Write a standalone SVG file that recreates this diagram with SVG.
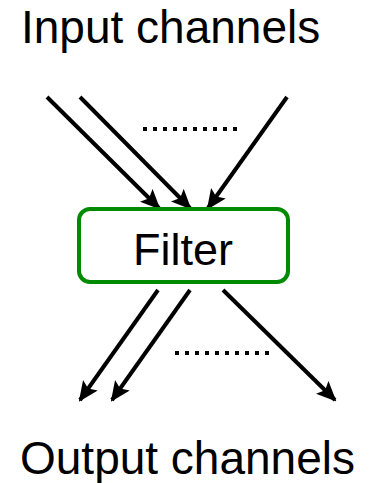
<svg xmlns="http://www.w3.org/2000/svg" width="378" height="483" viewBox="0 0 378 483">
  <style>
    .label { font-family: "Liberation Sans", Arial, sans-serif; fill: #000; }
    .edge { stroke: #000; stroke-width: 4; fill: none; marker-end: url(#arrow); }
    .dots { stroke: #000; stroke-width: 4; stroke-dasharray: 4 6; fill: none; }
  </style>
  <defs>
    <marker id="arrow" markerUnits="userSpaceOnUse" viewBox="0 0 20 18" refX="18" refY="9" markerWidth="20" markerHeight="18" orient="auto">
      <path d="M0,0 L20,9 L0,18 L4,9 Z" fill="#000"/>
    </marker>
  </defs>
  <rect width="378" height="483" fill="#fff"/>

  <text class="label" x="21" y="43" font-size="46">Input channels</text>
  <text class="label" x="20" y="474" font-size="46">Output channels</text>

  <g id="connectors">
    <!-- inputs -->
    <line class="edge" x1="47" y1="97" x2="159" y2="208"/>
    <line class="edge" x1="80" y1="97" x2="190" y2="208"/>
    <line class="edge" x1="287" y1="97" x2="208" y2="208"/>
    <!-- outputs -->
    <line class="edge" x1="158" y1="290" x2="80" y2="400"/>
    <line class="edge" x1="190" y1="290" x2="112" y2="400"/>
    <line class="edge" x1="223" y1="290" x2="335" y2="400"/>
    <!-- elided channels -->
    <line class="dots" x1="143" y1="129" x2="237" y2="129"/>
    <line class="dots" x1="175" y1="353" x2="269" y2="353"/>
  </g>

  <g id="filter">
    <rect x="79" y="209" width="209" height="73" rx="11" ry="11" fill="#fff" stroke="#008a00" stroke-width="4"/>
    <text class="label" x="183" y="265" font-size="45" text-anchor="middle">Filter</text>
  </g>
</svg>
